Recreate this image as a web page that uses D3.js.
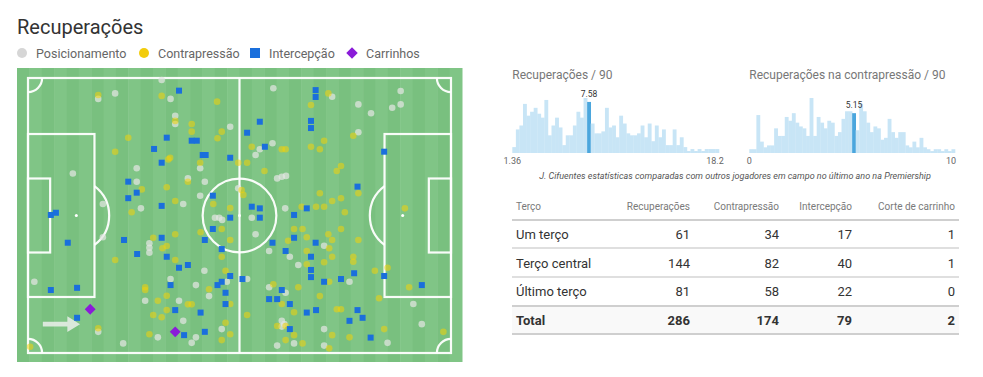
<!DOCTYPE html>
<html>
<head>
<meta charset="utf-8">
<script src="https://cdn.jsdelivr.net/npm/d3@7"></script>
<style>
body { margin: 0; background: #fff; }
text { font-family: Roboto, sans-serif; }
</style>
</head>
<body>
<div class="canvas"></div>
<script>
// legenda
const legendLabels = ['Posicionamento', 'Contrapressão', 'Intercepção', 'Carrinhos']
const legendColors = ['#d6d6d6', '#f2cc0c', '#1a6fdc', '#8a1bd8']

// recuperações no campo, coordenadas 0-100 (comprimento, largura)
const posicionamento = [[31.6,0.7],[16.6,7.6],[20.6,5.6],[33.7,7.6],[34.8,13.7],[34.8,16.7],[47.8,17.7],[40.7,32.8],[25.7,32.8],[10.6,34.7],[37.8,36.5],[25.7,37.7],[41.8,37.7],[40.7,42.8],[36.7,45.8],[17.7,45.8],[26.7,47.4],[58.0,3.7],[71.9,6.8],[78.1,9.6],[81.1,12.8],[88.1,4.7],[88.1,9.6],[86.1,10.8],[78.1,19.7],[57.8,23.7],[54.8,25.9],[53.8,28.0],[58.9,36.5],[60.0,35.9],[61.0,35.6],[60.8,47.4],[49.7,40.1],[28.7,60.1],[28.7,61.7],[28.7,63.5],[41.7,70.1],[1.5,74.1],[33.7,73.1],[39.7,75.3],[42.8,79.3],[27.7,81.0],[35.7,81.0],[36.7,88.3],[16.6,92.3],[30.7,94.3],[39.7,94.3],[38.7,96.3],[22.5,96.5],[45.8,91.3],[44.2,50.8],[45.2,50.8],[45.9,51.6],[47.0,74.1],[52.9,50.8],[53.8,56.8],[70.0,61.0],[57.0,62.9],[61.9,65.0],[63.9,68.0],[76.0,74.1],[91.1,82.2],[93.1,89.5],[51.8,73.1],[57.0,76.1],[60.9,78.1],[60.0,88.3],[60.6,89.5],[60.0,90.4],[70.0,91.3],[85.0,96.3],[58.9,97.3],[62.9,96.5],[70.0,97.3],[17.7,57.9]]
const contrapressao = [[16.6,6.2],[31.6,6.5],[44.7,8.6],[34.8,15.6],[38.7,16.7],[38.7,19.5],[45.8,19.5],[44.8,21.9],[23.7,21.7],[20.6,26.8],[33.6,29.0],[33.2,29.6],[40.7,30.8],[49.7,30.8],[37.8,37.7],[26.9,40.5],[32.8,39.7],[34.8,44.7],[43.8,45.8],[50.5,40.7],[50.9,42.5],[47.8,47.3],[71.0,5.6],[66.9,9.8],[76.9,21.0],[70.0,22.8],[66.9,25.0],[69.0,25.9],[52.9,25.0],[60.0,25.9],[60.9,25.9],[51.8,30.8],[55.9,33.8],[74.0,32.0],[73.0,33.8],[78.1,41.9],[69.0,41.9],[71.9,44.7],[74.0,43.7],[64.7,46.8],[68.1,46.8],[70.0,46.8],[89.1,47.4],[24.5,48.8],[29.6,58.1],[34.8,56.8],[31.8,61.9],[32.8,61.1],[34.8,66.2],[20.6,66.2],[27.7,76.1],[27.7,77.1],[42.8,76.8],[32.8,79.2],[30.7,81.0],[37.8,82.3],[38.7,82.3],[32.8,84.4],[29.6,86.2],[31.6,87.0],[16.6,91.0],[28.7,93.2],[45.8,95.3],[46.7,89.0],[47.8,93.2],[0.5,97.7],[45.8,54.9],[40.8,56.1],[47.8,58.9],[45.8,65.0],[46.7,70.1],[47.8,82.2],[74.9,48.8],[62.9,54.9],[64.9,54.9],[61.5,59.2],[65.9,57.9],[71.0,56.8],[71.9,58.9],[74.0,54.9],[78.1,58.9],[71.2,61.9],[65.9,62.9],[71.9,65.0],[76.9,65.0],[76.9,66.8],[70.0,67.0],[65.9,67.7],[71.2,74.1],[82.0,70.1],[85.0,69.0],[90.1,76.1],[83.0,80.1],[98.2,92.3],[58.0,75.0],[63.9,76.1],[60.0,82.2],[69.0,79.3],[62.9,85.2],[73.0,84.1],[74.0,84.1],[51.8,86.2],[58.9,90.2],[60.9,90.2],[84.2,91.3],[62.9,93.5],[71.9,93.5],[76.0,94.3],[60.9,95.3],[64.9,96.5],[71.2,98.3]]
const intercepcao = [[35.7,4.6],[32.8,21.7],[38.7,22.8],[39.9,22.8],[29.8,25.8],[41.3,28.0],[42.0,28.0],[31.6,30.8],[47.8,29.0],[23.7,37.7],[25.7,41.7],[23.7,43.7],[43.7,42.8],[31.6,46.5],[68.0,4.4],[68.0,6.9],[54.8,15.9],[66.9,15.6],[66.9,18.2],[51.8,19.9],[56.0,25.0],[84.2,26.8],[77.9,39.5],[52.9,46.8],[54.8,47.4],[65.9,47.4],[5.4,49.8],[6.6,49.0],[9.4,59.9],[22.7,58.9],[31.6,58.1],[25.8,64.0],[32.8,65.0],[35.7,69.0],[37.8,68.0],[5.4,77.1],[11.6,76.3],[33.7,75.3],[34.8,84.4],[40.8,85.3],[11.6,87.2],[41.8,92.3],[36.9,93.5],[47.8,50.8],[43.7,54.9],[41.8,58.9],[45.8,62.2],[47.8,72.0],[45.8,74.1],[44.8,75.3],[50.7,73.1],[46.7,78.1],[46.7,82.2],[54.8,50.8],[62.9,49.8],[57.8,59.9],[62.9,58.1],[68.0,59.9],[60.9,62.9],[66.9,65.0],[66.9,69.8],[66.9,72.4],[70.0,74.1],[74.0,73.1],[77.1,71.0],[84.2,72.0],[93.1,75.3],[60.0,77.1],[57.0,80.4],[58.9,80.4],[61.9,82.2],[65.9,85.3],[68.1,84.4],[77.9,84.4],[79.1,87.2],[76.0,88.3],[61.9,91.3],[81.0,94.4]]
const carrinhos = [[14.7,84.1],[34.8,92.3]]

// histogramas (contagem de jogadores por faixa)
const recHist = [3,12,14,25,19,21,23,20,18,27,9,14,18,13,4,9,9,14,21,18,28,26,15,10,10,11,23,13,14,8,19,15,10,9,9,10,14,8,15,6,14,8,12,4,4,12,4,8,3,1,2,1,2,1,2,2,2,2]
const recRange = [1.36, 18.2]
const recValue = 7.58
const cpHist = [2,2,20,6,3,4,4,13,9,9,19,17,21,16,14,13,9,29,9,19,16,13,17,16,9,11,18,22,22,21,12,26,22,16,11,14,13,7,8,18,11,8,11,11,4,3,6,3,8,3,2,1,2,2,1,2,1,2]
const cpRange = [0, 10]
const cpValue = 5.15

// tabela
const tableHeader = ['Terço', 'Recuperações', 'Contrapressão', 'Intercepção', 'Corte de carrinho']
const tercos = ['Um terço', 'Terço central', 'Último terço', 'Total']
const recuperacoesTerco = [61, 144, 81, 286]
const contrapressaoTerco = [34, 82, 58, 174]
const intercepcaoTerco = [17, 40, 22, 79]
const carrinhoTerco = [1, 1, 0, 2]

const svg = d3.select('.canvas').append('svg')
    .attr('width', 983)
    .attr('height', 377)

svg.append('text')
    .attr('x', 17)
    .attr('y', 34)
    .attr('fill', '#333')
    .style('font-size', '20px')
    .text('Recuperações')

// legenda
const legX = [22, 144, 255, 352]
const leg = svg.append('g')
legendLabels.forEach((l, i) => {
    if (i < 2) {
        leg.append('circle').attr('cx', legX[i]).attr('cy', 53).attr('r', 5).attr('fill', legendColors[i])
    } else if (i == 2) {
        leg.append('rect').attr('x', legX[i] - 5).attr('y', 48).attr('width', 10).attr('height', 10).attr('fill', legendColors[i])
    } else {
        leg.append('path').attr('d', d3.symbol(d3.symbolDiamond2, 85)()).attr('transform', `translate(${legX[i]},53)`).attr('fill', legendColors[i])
    }
    leg.append('text')
        .attr('x', legX[i] + 14)
        .attr('y', 57.5)
        .attr('fill', '#666')
        .style('font-size', '12.5px')
        .text(l)
})

// campo
const mx = d3.scaleLinear().domain([0, 105]).range([28, 451])
const my = d3.scaleLinear().domain([0, 68]).range([78, 353])
const x = d3.scaleLinear().domain([0, 100]).range([28, 451])
const y = d3.scaleLinear().domain([0, 100]).range([78, 353])

const field = svg.append('g')
const nStripes = 36
const stripeW = (462 - 17) / nStripes
field.selectAll('rect.stripe')
    .data(d3.range(nStripes))
    .enter().append('rect')
    .attr('x', d => 17 + d * stripeW)
    .attr('y', 68)
    .attr('width', stripeW + 0.5)
    .attr('height', 294)
    .attr('fill', d => d % 2 ? '#80c586' : '#79c07f')

const lines = field.append('g')
    .attr('fill', 'none')
    .attr('stroke', 'rgba(255,255,255,0.95)')
    .attr('stroke-width', 2.2)

lines.append('rect')
    .attr('x', mx(0)).attr('y', my(0))
    .attr('width', mx(105) - mx(0)).attr('height', my(68) - my(0))
lines.append('line')
    .attr('x1', mx(52.5)).attr('x2', mx(52.5))
    .attr('y1', my(0)).attr('y2', my(68))
const r915 = mx(9.15) - mx(0)
lines.append('circle').attr('cx', mx(52.5)).attr('cy', my(34)).attr('r', r915)

// áreas
;[[0, 16.5], [88.5, 105]].forEach(b => {
    lines.append('rect')
        .attr('x', mx(b[0])).attr('y', my(13.85))
        .attr('width', mx(16.5) - mx(0)).attr('height', my(54.15) - my(13.85))
})
;[[0, 5.5], [99.5, 105]].forEach(b => {
    lines.append('rect')
        .attr('x', mx(b[0])).attr('y', my(24.85))
        .attr('width', mx(5.5) - mx(0)).attr('height', my(43.15) - my(24.85))
})
const th = Math.acos(5.5 / 9.15)
const arcL = d3.path()
arcL.arc(mx(11), my(34), r915, -th, th)
lines.append('path').attr('d', arcL.toString())
const arcR = d3.path()
arcR.arc(mx(94), my(34), r915, Math.PI - th, Math.PI + th)
lines.append('path').attr('d', arcR.toString())

// cantos
const cr = mx(3.5) - mx(0)
const corners = [[0, 0, 0, Math.PI / 2], [105, 0, Math.PI / 2, Math.PI], [105, 68, Math.PI, 1.5 * Math.PI], [0, 68, 1.5 * Math.PI, 2 * Math.PI]]
corners.forEach(c => {
    const p = d3.path()
    p.arc(mx(c[0]), my(c[1]), cr, c[2], c[3])
    lines.append('path').attr('d', p.toString())
})

;[[12, 34], [52.5, 34], [93, 34]].forEach(s => {
    field.append('circle').attr('cx', mx(s[0])).attr('cy', my(s[1])).attr('r', 1.5).attr('fill', '#fff')
})

// seta de direção de ataque
const arrow = [[3.5, 88.6], [9.3, 88.6], [9.3, 86.6], [12.3, 89.5], [9.3, 92.4], [9.3, 90.4], [3.5, 90.4]]
field.append('path')
    .attr('d', d3.line().x(d => x(d[0])).y(d => y(d[1]))(arrow) + 'Z')
    .attr('fill', 'rgba(235,238,235,0.85)')

// pontos
const dots = svg.append('g')
dots.selectAll('circle.pos')
    .data(posicionamento)
    .enter().append('circle')
    .attr('cx', d => x(d[0]))
    .attr('cy', d => y(d[1]))
    .attr('r', 3.3)
    .attr('fill', 'rgba(226,228,226,0.72)')

dots.selectAll('circle.cp')
    .data(contrapressao)
    .enter().append('circle')
    .attr('cx', d => x(d[0]))
    .attr('cy', d => y(d[1]))
    .attr('r', 3.3)
    .attr('fill', 'rgba(242,210,10,0.55)')

dots.selectAll('rect.int')
    .data(intercepcao)
    .enter().append('rect')
    .attr('x', d => x(d[0]) - 3)
    .attr('y', d => y(d[1]) - 3)
    .attr('width', 6)
    .attr('height', 6)
    .attr('fill', '#1a6fdc')

dots.selectAll('path.car')
    .data(carrinhos)
    .enter().append('path')
    .attr('d', d3.symbol(d3.symbolDiamond2, 75)())
    .attr('transform', d => `translate(${x(d[0])},${y(d[1])})`)
    .attr('fill', '#8a1bd8')

// histogramas
function histogram(counts, range, value, x0, x1, title) {
    const g = svg.append('g')
    const hx = d3.scaleLinear().domain(range).range([x0, x1])
    const hy = d3.scaleLinear().domain([0, d3.max(counts)]).range([153, 98])
    const bw = (range[1] - range[0]) / counts.length
    const hi = Math.floor((value - range[0]) / bw)
    g.append('text')
        .attr('x', x0)
        .attr('y', 79)
        .attr('fill', '#777')
        .style('font-size', '12px')
        .text(title)
    g.selectAll('rect')
        .data(counts)
        .enter().append('rect')
        .attr('x', (d, i) => hx(range[0] + i * bw))
        .attr('y', d => hy(d))
        .attr('width', hx(range[0] + bw) - hx(range[0]) + 0.3)
        .attr('height', d => 153 - hy(d))
        .attr('fill', (d, i) => i == hi ? '#4ba6dd' : '#c8e5f6')
    g.append('text')
        .attr('x', hx(range[0] + (hi + 0.5) * bw))
        .attr('y', hy(counts[hi]) - 5)
        .attr('text-anchor', 'middle')
        .attr('fill', '#333')
        .style('font-size', '8.5px')
        .text(value)
    g.append('text')
        .attr('x', x0)
        .attr('y', 164)
        .attr('text-anchor', 'middle')
        .attr('fill', '#666')
        .style('font-size', '9px')
        .text(range[0])
    g.append('text')
        .attr('x', x1 - 4)
        .attr('y', 164)
        .attr('text-anchor', 'middle')
        .attr('fill', '#666')
        .style('font-size', '9px')
        .text(range[1])
}
histogram(recHist, recRange, recValue, 512.3, 719, 'Recuperações / 90')
histogram(cpHist, cpRange, cpValue, 749.3, 955, 'Recuperações na contrapressão / 90')

svg.append('text')
    .attr('x', 735)
    .attr('y', 179)
    .attr('text-anchor', 'middle')
    .attr('fill', '#555')
    .style('font-size', '9px')
    .style('font-style', 'italic')
    .text('J. Cifuentes estatísticas comparadas com outros jogadores em campo no último ano na Premiership')

// tabela
const colRight = [null, 690, 779, 852, 955]
const tbl = svg.append('g')
tbl.append('rect').attr('x', 512).attr('y', 306).attr('width', 447).attr('height', 28).attr('fill', '#f9f9f9')
tableHeader.forEach((h, i) => {
    tbl.append('text')
        .attr('x', i == 0 ? 516 : colRight[i])
        .attr('y', 210)
        .attr('text-anchor', i == 0 ? 'start' : 'end')
        .attr('fill', '#7a7a7a')
        .style('font-size', '10px')
        .text(h)
})
const lineY = [220, 248, 277, 306, 334]
lineY.forEach((ly, i) => {
    tbl.append('line')
        .attr('x1', 512).attr('x2', 959)
        .attr('y1', ly).attr('y2', ly)
        .attr('stroke', i == 1 || i == 2 ? '#d4d4d4' : '#cfcfcf')
        .attr('stroke-width', i == 1 || i == 2 ? 1.5 : 2.2)
})
const rowY = [238.5, 267.5, 296, 325]
tercos.forEach((t, r) => {
    const vals = [recuperacoesTerco[r], contrapressaoTerco[r], intercepcaoTerco[r], carrinhoTerco[r]]
    const weight = r == 3 ? 'bold' : 'normal'
    tbl.append('text')
        .attr('x', 516).attr('y', rowY[r])
        .attr('fill', '#333')
        .style('font-size', '13px')
        .style('font-weight', weight)
        .text(t)
    vals.forEach((v, c) => {
        tbl.append('text')
            .attr('x', colRight[c + 1]).attr('y', rowY[r])
            .attr('text-anchor', 'end')
            .attr('fill', '#333')
            .style('font-size', '13px')
            .style('font-weight', weight)
            .text(v)
    })
})
</script>
</body>
</html>
